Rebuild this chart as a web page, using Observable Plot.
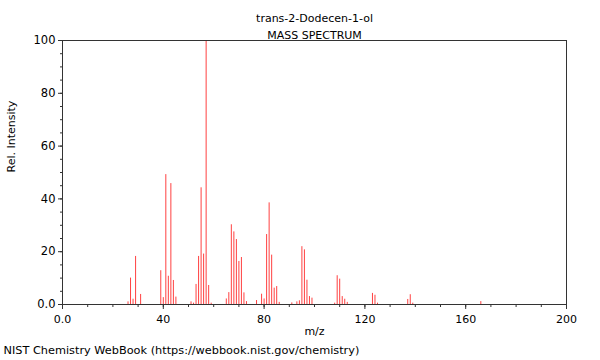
<!DOCTYPE html>
<html>
<head>
<meta charset="utf-8">
<script src="https://cdn.jsdelivr.net/npm/d3@7"></script>
<script src="https://cdn.jsdelivr.net/npm/@observablehq/plot@0.6"></script>
<style>
  html, body { margin: 0; padding: 0; background: #fff; }
</style>
</head>
<body>
<div id="chart"></div>
<script>
const title = "trans-2-Dodecen-1-ol";
const subtitle = "MASS SPECTRUM";
const xLabel = "m/z";
const yLabel = "Rel. Intensity";
const caption = "NIST Chemistry WebBook (https://webbook.nist.gov/chemistry)";

const mz = [26,27,28,29,31,39,40,41,42,43,44,45,51,52,53,54,55,56,57,58,59,
  65,66,67,68,69,70,71,72,73,77,79,80,81,82,83,84,85,86,91,93,94,95,96,97,98,99,
  108,109,110,111,112,113,123,124,125,137,138,139,166];
const intensity = [1,10,2,18.2,3.8,12.8,2.6,49.2,10.7,45.8,9.1,2.8,1,0.5,7.6,18.2,44.2,19.1,100,7.2,0.5,
  2.1,4.5,30.2,27.5,24.6,16.3,17.8,4.4,1.1,1.5,3.9,2.1,26.5,38.5,18.7,6.2,6.8,0.8,0.6,1,1.4,21.9,20.7,9.2,3.0,2.4,
  0.5,10.9,9.6,3.0,2.0,0.8,4.2,3.5,0.5,1.9,3.7,0.5,1.1];

const xMajorTicks = [0, 40, 80, 120, 160, 200];
const xMinorTicks = d3.range(0, 201, 10);
const yMajorTicks = [0, 20, 40, 60, 80, 100];
const yMinorTicks = d3.range(0, 101, 5);

const peaks = mz.map((m, i) => ({mz: m, intensity: intensity[i]}));
const fmt = d => d === 0 ? "0.0" : String(d);

const chart = Plot.plot({
  width: 600,
  height: 360,
  marginLeft: 62,
  marginRight: 34,
  marginTop: 40,
  marginBottom: 56,
  style: {fontFamily: "DejaVu Sans", fontSize: "11px", color: "#000", background: "#fff"},
  x: {domain: [0, 200]},
  y: {domain: [0, 100]},
  marks: [
    Plot.ruleX(peaks, {x: "mz", y1: 0, y2: "intensity", stroke: "#f00", strokeOpacity: 0.75, strokeWidth: 1}),
    Plot.frame({stroke: "#333"}),
    Plot.axisX({ticks: xMinorTicks, tickSize: 3, text: null, label: null, stroke: "#333"}),
    Plot.axisX({ticks: xMajorTicks, tickSize: 5, tickPadding: 6, tickFormat: fmt, label: null, stroke: "#333", fontSize: 11}),
    Plot.axisY({ticks: yMinorTicks, tickSize: 2, text: null, label: null, stroke: "#333"}),
    Plot.axisY({ticks: yMajorTicks, tickSize: 4, tickPadding: 3, tickFormat: fmt, label: null, stroke: "#333", fontSize: 11.5}),
    Plot.text([title], {text: d => d, frameAnchor: "top", dy: -26}),
    Plot.text([subtitle], {text: d => d, frameAnchor: "top", dy: -9.5}),
    Plot.text([xLabel], {text: d => d, frameAnchor: "bottom", dy: 30}),
    Plot.text([yLabel], {text: d => d, frameAnchor: "left", dx: -51, rotate: -90}),
    Plot.text([caption], {text: d => d, frameAnchor: "bottom-left", textAnchor: "start", dx: -59, dy: 49.5, fontSize: 11.3})
  ]
});
document.getElementById("chart").appendChild(chart);
</script>
</body>
</html>
